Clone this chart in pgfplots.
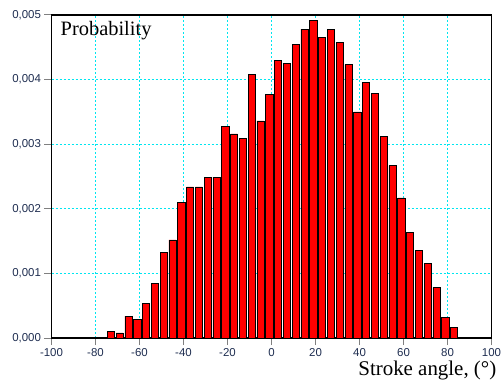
\documentclass[border=0pt]{standalone}
\usepackage{pgfplots}
\pgfplotsset{compat=1.18}
\usepackage{fontspec}
\setmainfont{Liberation Serif}
\newfontfamily\ticksf{Liberation Sans}
\definecolor{tickc}{RGB}{30,45,80}
\definecolor{gridc}{RGB}{0,230,240}
\begin{document}
\begin{tikzpicture}
\begin{axis}[
  at={(0,0)}, anchor=south west,
  scale only axis, width=440bp, height=323bp,
  xmin=-100, xmax=100, ymin=0, ymax=0.005,
  xtick={-100,-80,-60,-40,-20,0,20,40,60,80,100},
  ytick={0,0.001,0.002,0.003,0.004,0.005},
  scaled y ticks=false,
  yticklabel style={/pgf/number format/.cd, fixed, fixed zerofill, precision=3, use comma},
  /pgf/number format/assume math mode=true,
  tick label style={font=\ticksf\fontsize{11.5}{13}\selectfont, text=tickc},
  tick align=outside, major tick length=7bp,
  tick pos=left,
  xmajorgrids, ymajorgrids,
  x grid style={gridc, dash pattern=on 2bp off 2bp, line width=1.8bp},
  y grid style={gridc, dash pattern=on 2bp off 2bp, line width=1bp},
  axis line style={line width=1.2bp, black},
  major tick style={line width=1bp},
  ybar, bar width=3.2,
  xlabel={Stroke angle, (°)},
  ylabel={Probability},
  every axis x label/.style={at={(axis description cs:1,0)}, anchor=base east, xshift=5bp, yshift=-37bp, inner sep=0pt, font=\fontsize{21}{25}\selectfont},
  every axis y label/.style={at={(axis description cs:0,1)}, anchor=base west, xshift=9bp, yshift=-21bp, inner sep=0pt, font=\fontsize{20.5}{24}\selectfont},
]
\addplot[fill=red, draw=black, line width=0.6bp] coordinates {
(-73,0.000105) (-69,0.00008) (-65,0.00034) (-61,0.00029) (-57,0.00053)
(-53,0.00085) (-49,0.00133) (-45,0.00152) (-41,0.00210) (-37,0.00234)
(-33,0.00234) (-29,0.00249) (-25,0.00249) (-21,0.00327) (-17,0.00316)
(-13,0.00309) (-9,0.00408) (-5,0.00336) (-1,0.00377) (3,0.00430)
(7,0.00425) (11,0.00455) (15,0.00478) (19,0.00492) (23,0.00465)
(27,0.00478) (31,0.00458) (35,0.00423) (39,0.00350) (43,0.00396)
(47,0.00379) (51,0.00312) (55,0.00267) (59,0.00217) (63,0.00163)
(67,0.00136) (71,0.00115) (75,0.00078) (79,0.00032) (83,0.00017)
};
\end{axis}
\pgfresetboundingbox
\useasboundingbox (-51.5bp,-43bp) rectangle (449.5bp,338bp);
\end{tikzpicture}
\end{document}
